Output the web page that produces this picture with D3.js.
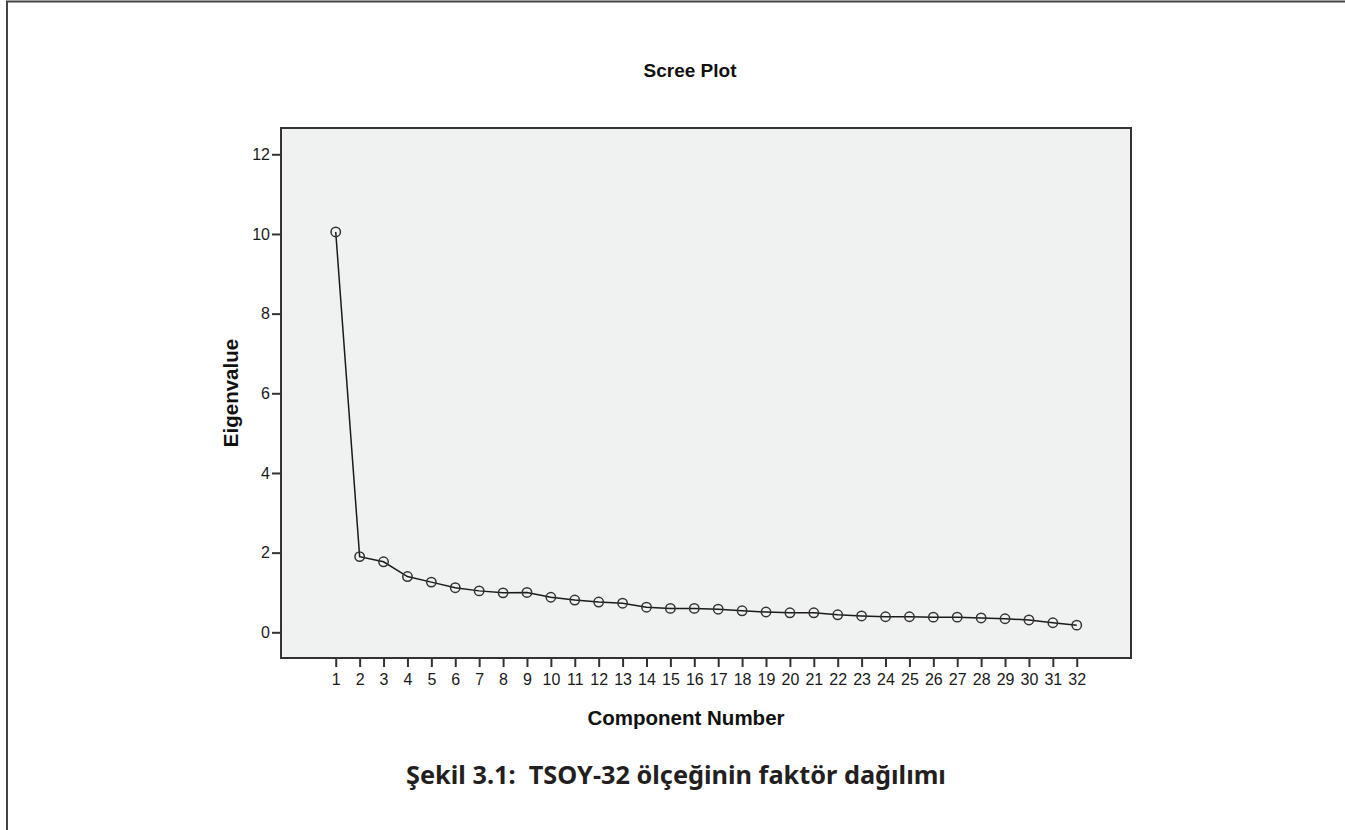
<!DOCTYPE html>
<html>
<head>
<meta charset="utf-8">
<script src="https://cdn.jsdelivr.net/npm/d3@7"></script>
<style>
  body { margin: 0; background: #fff; }
  svg { display: block; }
</style>
</head>
<body>
<div id="chart"></div>
<script>
// component numbers and eigenvalues
const components = d3.range(1, 33);
const eigenvalues = [10.05, 1.90, 1.77, 1.40, 1.26, 1.12, 1.04, 0.99, 1.00, 0.88,
                     0.81, 0.76, 0.73, 0.63, 0.60, 0.60, 0.58, 0.54, 0.51, 0.49,
                     0.49, 0.44, 0.41, 0.39, 0.39, 0.38, 0.38, 0.36, 0.34, 0.31,
                     0.24, 0.18];
const yTicks = [0, 2, 4, 6, 8, 10, 12];

const chartTitle = "Scree Plot";
const xTitle = "Component Number";
const yTitle = "Eigenvalue";
const caption = "Şekil 3.1:  TSOY-32 ölçeğinin faktör dağılımı";

const W = 1345, H = 830;
const margin = {top: 128, right: 214, bottom: 172, left: 281},
      width = W - margin.left - margin.right,
      height = H - margin.top - margin.bottom;

const data = components.map((c, i) => ({c: c, v: eigenvalues[i]}));

const svg = d3.select("#chart")
    .append("svg")
    .attr("width", W)
    .attr("height", H);

// outer frame (only top and left edges visible)
svg.append("path")
    .attr("d", `M7,${H} V1.5 H${W}`)
    .attr("fill", "none")
    .attr("stroke", "#444")
    .attr("stroke-width", 2);

const g = svg.append("g")
    .attr("transform", `translate(${margin.left},${margin.top})`);

// scales, with SPSS-like padding around the data
const xScale = d3.scaleLinear()
    .domain([-1.29, 34.27])
    .range([0, width]);

const yScale = d3.scaleLinear()
    .domain([-0.645, 12.66])
    .range([height, 0]);

// plot background
g.append("rect")
    .attr("width", width)
    .attr("height", height)
    .attr("fill", "#f0f1f1")
    .attr("stroke", "#333")
    .attr("stroke-width", 2);

function styleAxis(a) {
    a.select(".domain").remove();
    a.attr("font-family", "Liberation Sans, Arial, sans-serif")
        .attr("font-size", 16);
    a.selectAll(".tick line").attr("stroke", "#333").attr("stroke-width", 2);
    a.selectAll(".tick text").attr("fill", "#1a1a1a");
}

// axes
g.append("g")
    .attr("transform", `translate(0,${height})`)
    .call(d3.axisBottom(xScale).tickValues(components).tickFormat(d3.format("d"))
        .tickSize(9).tickPadding(7))
    .call(styleAxis);

g.append("g")
    .call(d3.axisLeft(yScale).tickValues(yTicks).tickSize(9).tickPadding(2))
    .call(styleAxis);

// line
g.append("path")
    .datum(data)
    .attr("fill", "none")
    .attr("stroke", "#1a1a1a")
    .attr("stroke-width", 1.5)
    .attr("d", d3.line()
        .x(d => xScale(d.c))
        .y(d => yScale(d.v)));

// points
g.selectAll(".dot")
    .data(data)
    .join("circle")
    .attr("class", "dot")
    .attr("cx", d => xScale(d.c))
    .attr("cy", d => yScale(d.v))
    .attr("r", 4.7)
    .attr("fill", "none")
    .attr("stroke", "#333")
    .attr("stroke-width", 1.5);

// titles
svg.append("text")
    .attr("x", 690)
    .attr("y", 77)
    .attr("text-anchor", "middle")
    .style("font-family", "Liberation Sans, Arial, sans-serif")
    .style("font-weight", "bold")
    .style("font-size", "19px")
    .style("fill", "#111")
    .text(chartTitle);

g.append("text")
    .attr("x", width / 2 - 20)
    .attr("y", height + 67)
    .attr("text-anchor", "middle")
    .style("font-family", "Liberation Sans, Arial, sans-serif")
    .style("font-weight", "bold")
    .style("font-size", "20.5px")
    .style("fill", "#111")
    .text(xTitle);

g.append("text")
    .attr("transform", `translate(-43,${height / 2}) rotate(-90)`)
    .attr("text-anchor", "middle")
    .style("font-family", "Liberation Sans, Arial, sans-serif")
    .style("font-weight", "bold")
    .style("font-size", "20.5px")
    .style("fill", "#111")
    .text(yTitle);

// figure caption
svg.append("text")
    .attr("x", 676)
    .attr("y", 784)
    .attr("text-anchor", "middle")
    .style("white-space", "pre")
    .style("font-family", "Noto Sans, Open Sans, sans-serif")
    .style("font-weight", "bold")
    .style("font-size", "25.3px")
    .style("fill", "#231f20")
    .text(caption);
</script>
</body>
</html>
